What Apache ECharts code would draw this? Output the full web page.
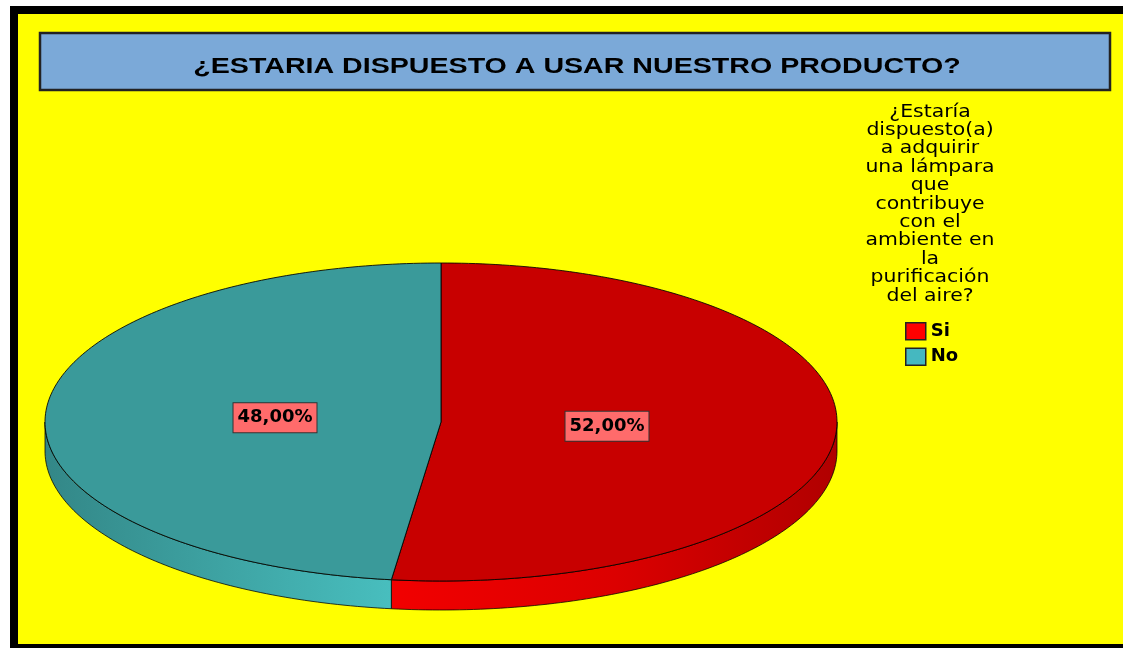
<!DOCTYPE html>
<html>
<head>
<meta charset="utf-8">
<script src="https://cdn.jsdelivr.net/npm/echarts@6/dist/echarts.min.js"></script>
<style>
html,body{margin:0;padding:0;background:#fff;}
#chart{width:1123px;height:648px;}
</style>
</head>
<body>
<div id="chart"></div>
<script>
const chartTitle = '¿ESTARIA DISPUESTO A USAR NUESTRO PRODUCTO?';
const legendTitle = '¿Estaría\ndispuesto(a)\na adquirir\nuna lámpara\nque\ncontribuye\ncon el\nambiente en\nla\npurificación\ndel aire?';
const categories = ['Si', 'No'];
const values = [52, 48];

const topColors = ['#C80000', '#3A9A9A'];
const legendColors = ['#FF0000', '#45B8C0'];
const sideStops = [
  [{offset:0,color:'#F20000'},{offset:0.5,color:'#DC0000'},{offset:1,color:'#B00000'}],
  [{offset:0,color:'#338787'},{offset:1,color:'#48BEBE'}]
];
const sideRange = [[391, 837], [45, 391]];

const geo = {cx: 441, cy: 422, rx: 396, ry: 159, depth: 29, labelK: 0.42};

const total = values.reduce((a, b) => a + b, 0);

function fmtPct(v) {
  return (v / total * 100).toFixed(2).replace('.', ',') + '%';
}

function makeRender(i) {
  return function (params, api) {
    const v = api.value(0);
    let before = 0;
    for (let k = 0; k < i; k++) before += values[k];
    const a0 = before / total * Math.PI * 2;
    const a1 = a0 + v / total * Math.PI * 2;
    const {cx, cy, rx, ry, depth} = geo;
    const pt = (t, dy) => [cx + rx * Math.sin(t), cy - ry * Math.cos(t) + (dy || 0)];
    const arc = (s, e, dy) => {
      const n = Math.max(8, Math.ceil(Math.abs(e - s) / (Math.PI * 2) * 360));
      const pts = [];
      for (let j = 0; j <= n; j++) pts.push(pt(s + (e - s) * j / n, dy));
      return pts;
    };
    const children = [];
    const s0 = Math.max(a0, Math.PI / 2), s1 = Math.min(a1, Math.PI * 1.5);
    if (s1 > s0) {
      const pts = arc(s0, s1, 0).concat(arc(s1, s0, depth));
      children.push({
        type: 'polygon',
        shape: {points: pts},
        style: {
          fill: {type: 'linear', x: sideRange[i][0], y: 0, x2: sideRange[i][1], y2: 0, global: true, colorStops: sideStops[i]},
          stroke: 'rgba(0,0,0,0.75)', lineWidth: 1
        }
      });
    }
    children.push({
      type: 'polygon',
      shape: {points: [[cx, cy]].concat(arc(a0, a1, 0))},
      style: {fill: topColors[i], stroke: 'rgba(0,0,0,0.85)', lineWidth: 1}
    });
    const mid = (a0 + a1) / 2;
    const lp = [cx + geo.labelK * rx * Math.sin(mid), cy - geo.labelK * ry * Math.cos(mid)];
    children.push({
      type: 'text',
      x: lp[0], y: lp[1],
      style: {
        text: fmtPct(v),
        x: 0, y: 0,
        align: 'center', verticalAlign: 'middle',
        font: 'bold 18px "DejaVu Sans"',
        fill: '#000',
        backgroundColor: '#FF6B6B',
        borderColor: '#333', borderWidth: 1,
        padding: [6, 4, 5, 4]
      }
    });
    return {type: 'group', children};
  };
}

const chart = echarts.init(document.getElementById('chart'));
chart.setOption({
  animation: false,
  graphic: [
    {type: 'rect', z: -10, shape: {x: 10, y: 6, width: 1113, height: 642}, style: {fill: '#000'}},
    {type: 'rect', z: -9, shape: {x: 18, y: 14, width: 1105, height: 630}, style: {fill: '#FFFF00'}},
    {type: 'rect', z: -8, shape: {x: 40, y: 33, width: 1070, height: 57}, style: {fill: '#7BA9D8', stroke: '#222', lineWidth: 2.5}},
    {type: 'text', z: -7, x: 577, y: 67, scaleX: 1.3,
      style: {text: chartTitle, x: 0, y: 0, align: 'center', verticalAlign: 'middle', font: 'bold 22px "Liberation Sans"', fill: '#000'}},
    {type: 'text', z: -7, x: 930, y: 103, scaleX: 1.2,
      style: {text: legendTitle, x: 0, y: 0, align: 'center', verticalAlign: 'top', font: '17px "DejaVu Sans"', lineHeight: 18.4, fill: '#000'}}
  ],
  legend: {
    orient: 'vertical',
    left: 900, top: 317,
    itemWidth: 20, itemHeight: 17, itemGap: 7,
    icon: 'rect',
    selectedMode: false,
    textStyle: {fontFamily: 'DejaVu Sans', fontWeight: 'bold', fontSize: 18, color: '#000'},
    itemStyle: {borderColor: '#222', borderWidth: 1.5},
    data: categories
  },
  series: categories.map((c, i) => ({
    type: 'custom',
    name: c,
    coordinateSystem: 'none',
    silent: true,
    itemStyle: {color: legendColors[i]},
    renderItem: makeRender(i),
    data: [[values[i]]]
  }))
});
</script>
</body>
</html>
